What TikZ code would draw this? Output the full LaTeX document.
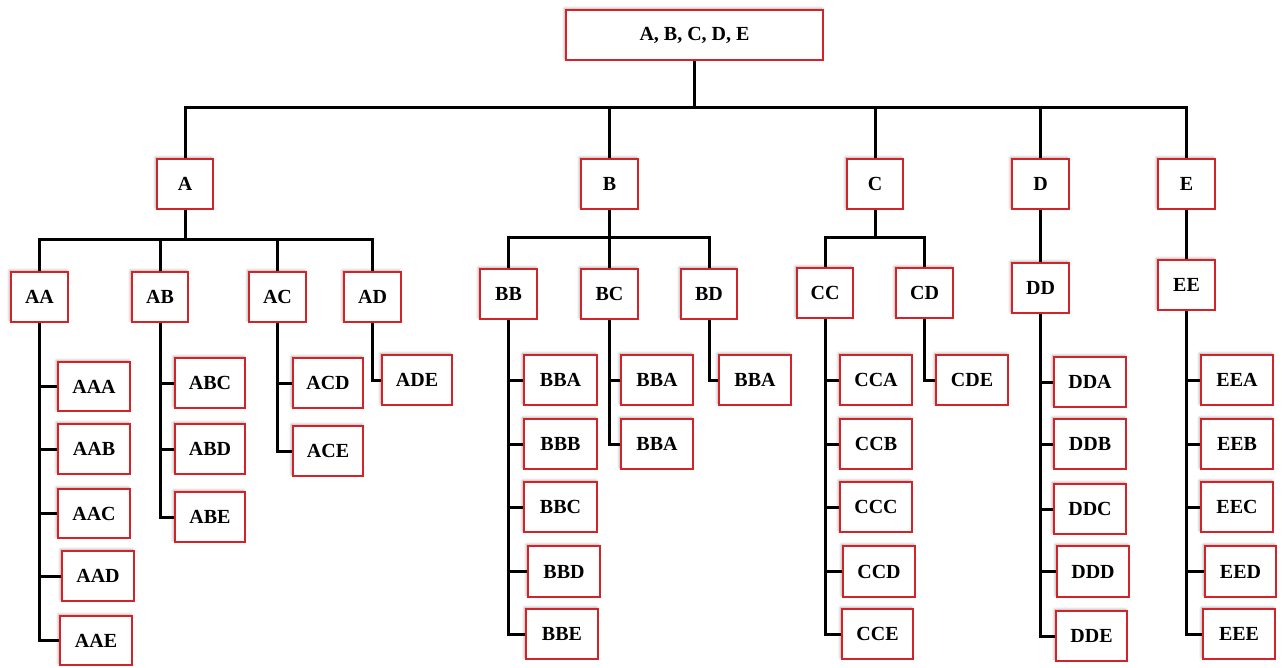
\documentclass[tikz,border=0pt]{standalone}
\usepackage{fontspec}
\setmainfont{Liberation Serif}
\usetikzlibrary{shadows.blur}
\definecolor{boxred}{RGB}{212,34,40}
\tikzset{
  box/.style={draw=boxred, line width=1.8pt, fill=white, inner sep=0pt,
    font=\fontsize{20}{23}\selectfont\bfseries,
    blur shadow={shadow xshift=-1.5pt, shadow yshift=1.5pt, shadow blur radius=2.5pt, shadow opacity=35}},
  conn/.style={draw=black, line width=3pt, line join=miter}
}
\newcommand\bx[6]{\node[box,minimum width={#4-#2},minimum height={#5-#3}] (#1) at ({(#2+#4)/2},{(#3+#5)/2}) {#6};}
\begin{document}
\begin{tikzpicture}[x=1pt,y=-1pt]
\useasboundingbox (0,0) rectangle (1282,668);
% boxes
\bx{root}{566}{10}{823}{60}{A, B, C, D, E}
\bx{A}{157}{159}{213}{209}{A}
\bx{B}{581}{159}{638}{209}{B}
\bx{C}{847}{159}{903}{209}{C}
\bx{D}{1012}{159}{1069}{209}{D}
\bx{E}{1158}{159}{1215}{209}{E}
\bx{AA}{11}{272}{68}{322}{AA}
\bx{AB}{132}{272}{188}{322}{AB}
\bx{AC}{249}{272}{306}{322}{AC}
\bx{AD}{344}{272}{401}{322}{AD}
\bx{BB}{480}{269}{537}{319}{BB}
\bx{BC}{581}{269}{638}{319}{BC}
\bx{BD}{681}{269}{737}{319}{BD}
\bx{CC}{797}{268}{853}{318}{CC}
\bx{CD}{896}{268}{953}{318}{CD}
\bx{DD}{1012}{263}{1069}{313}{DD}
\bx{EE}{1158}{260}{1215}{310}{EE}
\bx{AAA}{58}{362}{130}{411}{AAA}
\bx{AAB}{58}{424}{130}{474}{AAB}
\bx{AAC}{58}{489}{130}{538}{AAC}
\bx{AAD}{62}{551}{134}{601}{AAD}
\bx{AAE}{60}{616}{132}{665}{AAE}
\bx{ABC}{175}{358}{245}{408}{ABC}
\bx{ABD}{175}{424}{245}{474}{ABD}
\bx{ABE}{175}{492}{245}{542}{ABE}
\bx{ACD}{293}{358}{363}{408}{ACD}
\bx{ACE}{293}{426}{363}{476}{ACE}
\bx{ADE}{382}{355}{452}{405}{ADE}
\bx{BBA}{524}{355}{597}{405}{BBA}
\bx{BBB}{524}{419}{597}{469}{BBB}
\bx{BBC}{524}{482}{597}{532}{BBC}
\bx{BBD}{528}{546}{600}{597}{BBD}
\bx{BBE}{526}{609}{598}{659}{BBE}
\bx{BCa}{621}{355}{693}{405}{BBA}
\bx{BCb}{621}{419}{693}{469}{BBA}
\bx{BDa}{719}{355}{791}{405}{BBA}
\bx{CCA}{840}{355}{912}{405}{CCA}
\bx{CCB}{840}{419}{912}{469}{CCB}
\bx{CCC}{840}{482}{912}{532}{CCC}
\bx{CCD}{843}{546}{915}{597}{CCD}
\bx{CCE}{842}{609}{913}{659}{CCE}
\bx{CDE}{936}{355}{1008}{405}{CDE}
\bx{DDA}{1054}{357}{1126}{407}{DDA}
\bx{DDB}{1054}{419}{1126}{469}{DDB}
\bx{DDC}{1054}{484}{1126}{534}{DDC}
\bx{DDD}{1057}{546}{1129}{597}{DDD}
\bx{DDE}{1056}{611}{1127}{661}{DDE}
\bx{EEA}{1201}{355}{1273}{405}{EEA}
\bx{EEB}{1201}{419}{1273}{469}{EEB}
\bx{EEC}{1201}{482}{1273}{532}{EEC}
\bx{EED}{1205}{546}{1276}{597}{EED}
\bx{EEE}{1203}{609}{1275}{659}{EEE}
% buses
\coordinate (bus) at (0,108);
\coordinate (busA) at (0,240);
\coordinate (busB) at (0,238);
\coordinate (busC) at (0,238);
\draw[conn] (root.south) -- (root.south |- bus);
\draw[conn] (A.north) -- (A.north |- bus) -- (E.north |- bus) -- (E.north);
\foreach \n in {B,C,D} \draw[conn] (\n.north) -- (\n.north |- bus);
% A subtree
\draw[conn] (A.south) -- (A.south |- busA);
\draw[conn] (AA.north) -- (AA.north |- busA) -- (AD.north |- busA) -- (AD.north);
\foreach \n in {AB,AC} \draw[conn] (\n.north) -- (\n.north |- busA);
% B subtree
\draw[conn] (B.south) -- (B.south |- busB);
\draw[conn] (BB.north) -- (BB.north |- busB) -- (BD.north |- busB) -- (BD.north);
\draw[conn] (BC.north) -- (BC.north |- busB);
% C subtree
\draw[conn] (C.south) -- (C.south |- busC);
\draw[conn] (CC.north) -- (CC.north |- busC) -- (CD.north |- busC) -- (CD.north);
% D, E
\draw[conn] (D.south) -- (DD.north);
\draw[conn] (E.south) -- (EE.north);
% leaf columns
\draw[conn] (AA.south) |- (AAE.west);
\foreach \n in {AAA,AAB,AAC,AAD} \draw[conn] (\n.west) -- (\n.west -| AA.south);
\draw[conn] (AB.south) |- (ABE.west);
\foreach \n in {ABC,ABD} \draw[conn] (\n.west) -- (\n.west -| AB.south);
\draw[conn] (AC.south) |- (ACE.west);
\draw[conn] (ACD.west) -- (ACD.west -| AC.south);
\draw[conn] (AD.south) |- (ADE.west);
\draw[conn] (BB.south) |- (BBE.west);
\foreach \n in {BBA,BBB,BBC,BBD} \draw[conn] (\n.west) -- (\n.west -| BB.south);
\draw[conn] (BC.south) |- (BCb.west);
\draw[conn] (BCa.west) -- (BCa.west -| BC.south);
\draw[conn] (BD.south) |- (BDa.west);
\draw[conn] (CC.south) |- (CCE.west);
\foreach \n in {CCA,CCB,CCC,CCD} \draw[conn] (\n.west) -- (\n.west -| CC.south);
\draw[conn] (CD.south) |- (CDE.west);
\draw[conn] (DD.south) |- (DDE.west);
\foreach \n in {DDA,DDB,DDC,DDD} \draw[conn] (\n.west) -- (\n.west -| DD.south);
\draw[conn] (EE.south) |- (EEE.west);
\foreach \n in {EEA,EEB,EEC,EED} \draw[conn] (\n.west) -- (\n.west -| EE.south);
\end{tikzpicture}
\end{document}
